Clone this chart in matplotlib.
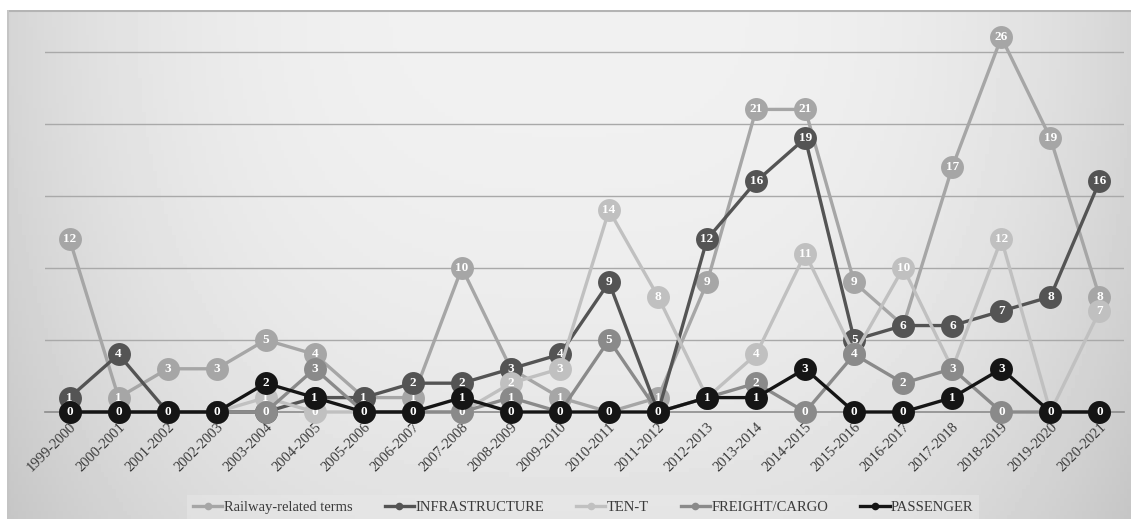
import numpy as np
import matplotlib.pyplot as plt

periods = ['1999-2000', '2000-2001', '2001-2002', '2002-2003', '2003-2004', '2004-2005',
           '2005-2006', '2006-2007', '2007-2008', '2008-2009', '2009-2010', '2010-2011',
           '2011-2012', '2012-2013', '2013-2014', '2014-2015', '2015-2016', '2016-2017',
           '2017-2018', '2018-2019', '2019-2020', '2020-2021']

railway = [12, 1, 3, 3, 5, 4, 1, 1, 10, 3, 1, 0, 1, 9, 21, 21, 9, 6, 17, 26, 19, 8]
infrastructure = [1, 4, 0, 0, 0, 1, 1, 2, 2, 3, 4, 9, 0, 12, 16, 19, 5, 6, 6, 7, 8, 16]
ten_t = [0, 0, 0, 0, 1, 0, 0, 0, 0, 2, 3, 14, 8, 1, 4, 11, 4, 10, 3, 12, 0, 7]
freight = [0, 0, 0, 0, 0, 3, 0, 0, 0, 1, 0, 5, 0, 1, 2, 0, 4, 2, 3, 0, 0, 0]
passenger = [0, 0, 0, 0, 2, 1, 0, 0, 1, 0, 0, 0, 0, 1, 1, 3, 0, 0, 1, 3, 0, 0]

series = [
    ('Railway-related terms', railway, '#a6a6a6'),
    ('INFRASTRUCTURE', infrastructure, '#545454'),
    ('TEN-T', ten_t, '#c0c0c0'),
    ('FREIGHT/CARGO', freight, '#8a8a8a'),
    ('PASSENGER', passenger, '#151515'),
]

serif = 'Liberation Serif'

fig = plt.figure(figsize=(11.31, 5.19), dpi=100)

# grey chart background, lighter in the middle
bg = fig.add_axes([7 / 1131, 0, 1 - 7 / 1131, 509 / 519], zorder=-5)
gx = np.linspace(0, 1, 300)
gy = np.linspace(0, 1, 120)
X, Y = np.meshgrid(gx, gy)
shade = 0.945 - 0.11 * np.abs(2 * X - 1) ** 3 - 0.06 * Y ** 2
bg.imshow(shade, cmap='gray', vmin=0, vmax=1, aspect='auto', extent=(0, 1, 1, 0))
bg.set_xlim(0, 1)
bg.set_ylim(1, 0)
bg.axis('off')
bg.plot([0, 1], [0.002, 0.002], color='#b4b4b4', lw=1.5)
bg.plot([0.001, 0.001], [0, 1], color='#c4c4c4', lw=1.5)

ax = fig.add_axes([45 / 1131, 107 / 519, 1079 / 1131, 402 / 519])
ax.set_facecolor('none')
x = np.arange(len(periods))

for k, (name, vals, col) in enumerate(series):
    z = 3 + 2 * k
    ax.plot(x, vals, color=col, lw=2.4, marker='o', markersize=16.5,
            markeredgewidth=0, label=name, zorder=z, clip_on=False)
    for xi, v in zip(x, vals):
        ax.text(xi, v, str(v), ha='center', va='center', color='white',
                fontsize=9.5, fontweight='bold', family=serif, zorder=z + 1)

ax.set_xlim(-0.5, len(periods) - 0.5)
ax.set_ylim(0, 27.9)
ax.set_yticks([5, 10, 15, 20, 25])
ax.yaxis.grid(True, color='#a9a9a9', lw=1)
ax.set_axisbelow(True)
ax.tick_params(axis='y', length=0, labelleft=False)
ax.tick_params(axis='x', length=0, pad=6)
for s in ['top', 'right', 'left']:
    ax.spines[s].set_visible(False)
ax.spines['bottom'].set_color('#8c8c8c')
ax.spines['bottom'].set_linewidth(1.2)

ax.set_xticks(x)
ax.set_xticklabels(periods, rotation=45, ha='right', rotation_mode='anchor',
                   fontsize=10.5, family=serif, color='#3a3a3a')

leg = ax.legend(loc='center', bbox_to_anchor=(0.499, -0.237), ncol=5,
                frameon=True, facecolor='#eaeaea', framealpha=0.45, edgecolor='none',
                fancybox=False, handlelength=2.0, columnspacing=2.2, handletextpad=0.1,
                prop={'family': serif, 'size': 10.5})
for h in leg.legend_handles:
    h.set_markersize(5.5)
for t in leg.get_texts():
    t.set_color('#3a3a3a')

fig.savefig('out.png', dpi=100)
